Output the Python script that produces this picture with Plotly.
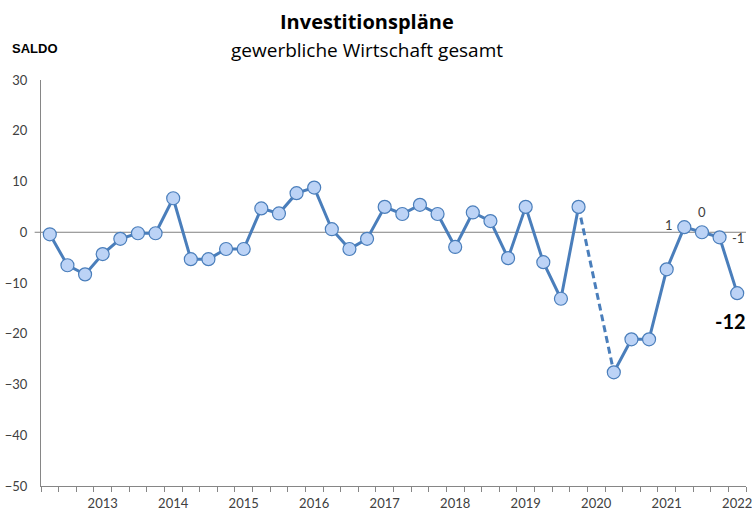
import plotly.graph_objects as go

# Quarterly balance of investment plans (Saldo), 2012 Q2 – 2022 Q1; 2020 Q1 not surveyed
quarters = [f"{y} Q{q}" for y in range(2012, 2023) for q in range(1, 5)][1:41]
saldo = [-0.4, -6.5, -8.3, -4.3, -1.3, -0.2, -0.2, 6.7,
         -5.3, -5.3, -3.3, -3.3, 4.7, 3.7, 7.7, 8.8,
         0.6, -3.3, -1.3, 5.0, 3.6, 5.4, 3.6, -2.9,
         3.9, 2.2, -5.1, 5.0, -5.9, -13.1, 5.0, None,
         -27.6, -21.1, -21.1, -7.3, 1, 0, -1, -12]
year_labels = ["2013", "2014", "2015", "2016", "2017",
               "2018", "2019", "2020", "2021", "2022"]
year_pos = [quarters.index(f"{y} Q1") for y in year_labels]
labelled = [36, 37, 38, 39]

x = list(range(len(quarters)))
LINE = "#4a7ebb"

fig = go.Figure()

# dashed bridge across the missing quarter
gap = saldo.index(None)
fig.add_trace(go.Scatter(
    x=[gap - 1, gap + 1], y=[saldo[gap - 1], saldo[gap + 1]],
    mode="lines", line=dict(color=LINE, width=3, dash="7px,4px"),
    hoverinfo="skip", showlegend=False))

fig.add_trace(go.Scatter(
    x=x, y=saldo, mode="lines+markers", connectgaps=False,
    line=dict(color=LINE, width=3),
    marker=dict(size=13, color="#bcd3f6",
                line=dict(color=LINE, width=1.2)),
    customdata=quarters, hovertemplate="%{customdata}: %{y}<extra></extra>",
    showlegend=False))

annotations = []
# value labels on the last quarters
offsets = {36: ("right", "middle", -9, 2, 13, False),
           37: ("center", "bottom", 0, 10, 13, False),
           38: ("left", "middle", 10, -1, 13, False),
           39: ("right", "top", 11, -14, 20, True)}
for i in labelled:
    xa, ya, xs, ys, sz, bold = offsets[i]
    txt = f"{saldo[i]:g}"
    annotations.append(dict(
        x=i, y=saldo[i], xref="x", yref="y", showarrow=False,
        text=f"<b>{txt}</b>" if bold else txt,
        xanchor=xa, yanchor=ya, xshift=xs, yshift=ys,
        font=dict(family="Lato", size=sz, color="#000000" if bold else "#404040")))

annotations += [
    dict(x=0.4624, y=1.143, xref="paper", yref="paper", showarrow=False,
         text="<b>Investitionspläne</b>", xanchor="center", yanchor="middle",
         font=dict(family="Open Sans", size=20, color="#000000")),
    dict(x=0.4624, y=1.073, xref="paper", yref="paper", showarrow=False,
         text="gewerbliche Wirtschaft gesamt", xanchor="center", yanchor="middle",
         font=dict(family="Open Sans", size=19, color="#000000")),
    dict(x=-0.044, y=1.0788, xref="paper", yref="paper", showarrow=False,
         text="<b>SALDO</b>", xanchor="left", yanchor="middle",
         font=dict(family="Liberation Sans", size=13, color="#000000")),
]

fig.update_layout(
    width=752, height=510,
    margin=dict(l=41, r=6, t=80, b=24, autoexpand=False),
    paper_bgcolor="white", plot_bgcolor="white",
    annotations=annotations,
    shapes=[dict(type="line", xref="paper", yref="y", x0=-0.009, x1=1,
                 y0=0, y1=0, line=dict(color="#808080", width=1), layer="below")],
    xaxis=dict(range=[-0.5, len(quarters) - 0.5], showgrid=False, zeroline=False,
               showline=True, linecolor="#868686", linewidth=1, automargin=False,
               tickmode="array", tickvals=year_pos, ticktext=year_labels, ticks="",
               ticklabelstandoff=5, ticklabeloverflow="allow",
               tickfont=dict(family="Lato", size=13, color="#404040")),
    yaxis=dict(range=[-50, 30], dtick=10, showgrid=False, zeroline=False,
               showline=True, linecolor="#868686", linewidth=1, ticks="",
               automargin=False, ticklabelstandoff=10,
               tickfont=dict(family="Lato", size=13, color="#404040")),
)
# quarter boundaries as small tick marks below the category axis
fig.update_xaxes(minor=dict(tickmode="array",
                            tickvals=[i - 0.5 for i in range(len(quarters) + 1)],
                            ticks="outside", ticklen=5, tickcolor="#868686"))

fig.write_html("out.html")
